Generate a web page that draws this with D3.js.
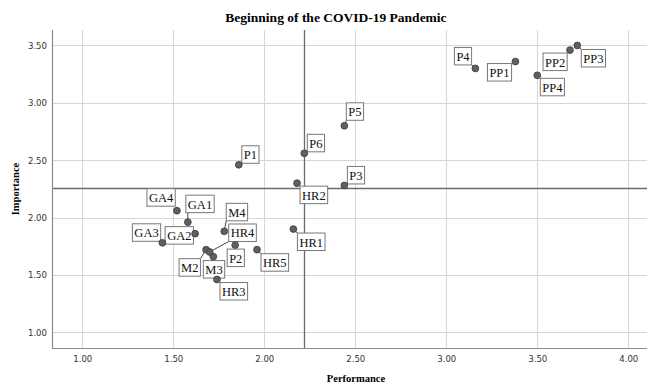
<!DOCTYPE html>
<html>
<head>
<meta charset="utf-8">
<script src="https://cdn.jsdelivr.net/npm/d3@7"></script>
<style>
  body { margin: 0; background: #fff; }
  svg { display: block; }
</style>
</head>
<body>
<div id="chart"></div>
<script>
// category labels and their (performance, importance) values
const labels = ['GA1', 'GA2', 'GA3', 'GA4', 'M2', 'M3', 'M4',
  'HR1', 'HR2', 'HR3', 'HR4', 'HR5',
  'P1', 'P2', 'P3', 'P4', 'P5', 'P6',
  'PP1', 'PP2', 'PP3', 'PP4'];
const performance = [1.58, 1.62, 1.44, 1.52, 1.68, 1.72, 1.78,
  2.16, 2.18, 1.74, 1.70, 1.96,
  1.86, 1.84, 2.44, 3.16, 2.44, 2.22,
  3.38, 3.68, 3.72, 3.50];
const importance = [1.96, 1.86, 1.78, 2.06, 1.72, 1.66, 1.88,
  1.90, 2.30, 1.46, 1.70, 1.72,
  2.46, 1.76, 2.28, 3.30, 2.80, 2.56,
  3.36, 3.46, 3.50, 3.24];
const xTicks = [1, 1.5, 2, 2.5, 3, 3.5, 4];
const yTicks = [1, 1.5, 2, 2.5, 3, 3.5];
const meanPerformance = 2.22;
const meanImportance = 2.255;

// where each label box sits relative to its point (px, top-left corner)
const labelOffset = {
  GA1: [-2, -27], GA2: [-30, -7], GA3: [-30, -19], GA4: [-30, -22],
  M2: [-27, 9], M3: [-10, 4], M4: [2, -28],
  HR1: [4, 4], HR2: [3, 3], HR3: [3, 3], HR4: [19, -28], HR5: [4, 4],
  P1: [3, -19], P2: [-8, 4], P3: [3, -19], P4: [-21, -21], P5: [2, -23], P6: [3, -19],
  PP1: [-28, 2], PP2: [-27, 3], PP3: [4, 4], PP4: [3, 3]
};

const width = 647, height = 385;
const margin = { top: 30, right: 0, bottom: 37, left: 52 };

const svg = d3.select('#chart').append('svg')
  .attr('width', width)
  .attr('height', height);

const x = d3.scaleLinear()
  .domain([0.8335, 4.103])
  .range([margin.left, width - margin.right]);
const y = d3.scaleLinear()
  .domain([0.863, 3.635])
  .range([height - margin.bottom, margin.top]);

// grid
svg.append('g').selectAll('line')
  .data(xTicks)
  .join('line')
  .attr('x1', d => Math.round(x(d)) + 0.5).attr('x2', d => Math.round(x(d)) + 0.5)
  .attr('y1', margin.top).attr('y2', height - margin.bottom)
  .attr('stroke', '#d6d6d6');
svg.append('g').selectAll('line')
  .data(yTicks)
  .join('line')
  .attr('x1', margin.left).attr('x2', width - margin.right)
  .attr('y1', d => Math.round(y(d)) + 0.5).attr('y2', d => Math.round(y(d)) + 0.5)
  .attr('stroke', '#d6d6d6');

// reference lines
svg.append('line')
  .attr('x1', Math.round(x(meanPerformance)) + 0.5).attr('x2', Math.round(x(meanPerformance)) + 0.5)
  .attr('y1', margin.top).attr('y2', height - margin.bottom)
  .attr('stroke', '#6a6a6a').attr('stroke-width', 1.3);
svg.append('line')
  .attr('x1', margin.left).attr('x2', width - margin.right)
  .attr('y1', Math.round(y(meanImportance)) + 0.5).attr('y2', Math.round(y(meanImportance)) + 0.5)
  .attr('stroke', '#6a6a6a').attr('stroke-width', 1.3);

// axes
const xAxis = svg.append('g')
  .attr('transform', 'translate(0,' + (height - margin.bottom) + ')')
  .call(d3.axisBottom(x).tickValues(xTicks).tickFormat(d3.format('.2f')).tickSize(0).tickPadding(7));
const yAxis = svg.append('g')
  .attr('transform', 'translate(' + margin.left + ',0)')
  .call(d3.axisLeft(y).tickValues(yTicks).tickFormat(d3.format('.2f')).tickSize(0).tickPadding(5));
[xAxis, yAxis].forEach(a => {
  a.select('.domain').attr('stroke', '#8a8a8a').attr('stroke-width', 1.2);
  a.selectAll('text')
    .attr('fill', '#333')
    .style('font-family', '"DejaVu Sans Condensed", "DejaVu Sans", sans-serif')
    .style('font-size', '9.5px');
});
xAxis.select('.domain').attr('d', 'M' + margin.left + ',0.5H' + width);
yAxis.select('.domain').attr('d', 'M0.5,' + margin.top + 'V' + (height - margin.bottom));

// titles
svg.append('text')
  .attr('x', 336).attr('y', 22)
  .attr('text-anchor', 'middle')
  .style('font-family', '"Liberation Serif", serif')
  .style('font-weight', 'bold')
  .style('font-size', '13.5px')
  .text('Beginning of the COVID-19 Pandemic');
svg.append('text')
  .attr('x', 356).attr('y', 382)
  .attr('text-anchor', 'middle')
  .style('font-family', '"Liberation Serif", serif')
  .style('font-weight', 'bold')
  .style('font-size', '10.5px')
  .text('Performance');
svg.append('text')
  .attr('transform', 'translate(19,189) rotate(-90)')
  .attr('text-anchor', 'middle')
  .style('font-family', '"Liberation Serif", serif')
  .style('font-weight', 'bold')
  .style('font-size', '10.5px')
  .text('Importance');

const points = labels.map((name, i) => ({ name, px: x(performance[i]), py: y(importance[i]) }));

// labels with boxes and leader lines
const labelLayer = svg.append('g');
const leaderLayer = labelLayer.append('g');
points.forEach(p => {
  const off = labelOffset[p.name];
  const g = labelLayer.append('g');
  const t = g.append('text')
    .attr('x', p.px + off[0] + 2)
    .attr('y', p.py + off[1] + 13.5)
    .style('font-family', '"Liberation Serif", serif')
    .style('font-size', '12.5px')
    .attr('fill', '#111')
    .text(p.name);
  const bw = t.node().getComputedTextLength() + 4;
  const bh = 17.5;
  const bx = p.px + off[0], by = p.py + off[1];
  g.insert('rect', 'text')
    .attr('x', bx).attr('y', by)
    .attr('width', bw).attr('height', bh)
    .attr('fill', '#fff')
    .attr('stroke', '#777')
    .attr('stroke-width', 1);
  const cx = Math.max(bx, Math.min(p.px, bx + bw));
  const cy = Math.max(by, Math.min(p.py, by + bh));
  if (Math.hypot(cx - p.px, cy - p.py) > 5) {
    leaderLayer.append('line')
      .attr('x1', p.px).attr('y1', p.py)
      .attr('x2', cx).attr('y2', cy)
      .attr('stroke', '#444').attr('stroke-width', 1);
  }
});

// points
svg.append('g').selectAll('circle')
  .data(points)
  .join('circle')
  .attr('cx', d => d.px)
  .attr('cy', d => d.py)
  .attr('r', 3.4)
  .attr('fill', '#606060')
  .attr('stroke', '#3a3a3a')
  .attr('stroke-width', 0.8);
</script>
</body>
</html>
